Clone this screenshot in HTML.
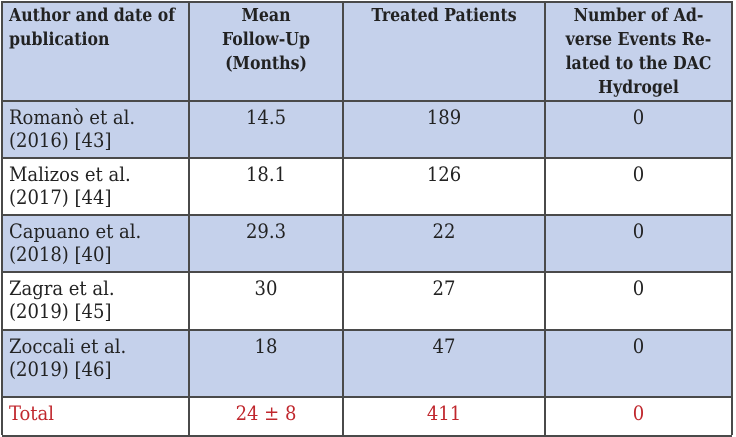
<!DOCTYPE html>
<html><head><style>
body{margin:0;width:736px;height:437px;background:#fff;position:relative;overflow:hidden;color:#222}
div{font-family:"DejaVu Serif Condensed","DejaVu Serif","Liberation Serif",serif}
.r{position:absolute;left:2px;width:730px;border-top:2px solid #4a4a4a}
.b{background:#c5d1eb}
.v{position:absolute;top:1px;height:434px;width:2px;background:#4a4a4a}
.c{position:absolute;font-size:20px;line-height:23px}
.h{position:absolute;font-size:17.5px;line-height:24px;font-weight:bold;text-align:center}
.red{color:#c0272d}
</style></head><body>
<div class="r b" style="top:1px;height:99px"></div>
<div class="r b" style="top:100px;height:56px"></div>
<div class="r" style="top:157px;height:56px"></div>
<div class="r b" style="top:214px;height:56px"></div>
<div class="r" style="top:271px;height:57px"></div>
<div class="r b" style="top:329px;height:66px"></div>
<div class="r" style="top:396px;height:37px;border-bottom:2px solid #4a4a4a"></div>
<div class="v" style="left:1px"></div>
<div class="v" style="left:188px"></div>
<div class="v" style="left:342px"></div>
<div class="v" style="left:544px"></div>
<div class="v" style="left:731px"></div>

<div class="h" style="left:9px;top:4px;text-align:left">Author and date of<br>publication</div>
<div class="h" style="left:190px;width:152px;top:4px">Mean<br>Follow-Up<br>(Months)</div>
<div class="h" style="left:344px;width:200px;top:4px">Treated Patients</div>
<div class="h" style="left:546px;width:185px;top:4px;line-height:24px">Number of Ad-<br>verse Events Re-<br>lated to the DAC<br>Hydrogel</div>

<div class="c" style="left:9px;top:106px">Romanò et al.<br>(2016) [43]</div>
<div class="c" style="left:9px;top:163px">Malizos et al.<br>(2017) [44]</div>
<div class="c" style="left:9px;top:220px">Capuano et al.<br>(2018) [40]</div>
<div class="c" style="left:9px;top:277px">Zagra et al.<br>(2019) [45]</div>
<div class="c" style="left:9px;top:335px">Zoccali et al.<br>(2019) [46]</div>
<div class="c red" style="left:9px;top:402px">Total</div>

<div class="c" style="left:190px;width:152px;text-align:center;top:106px">14.5</div>
<div class="c" style="left:190px;width:152px;text-align:center;top:163px">18.1</div>
<div class="c" style="left:190px;width:152px;text-align:center;top:220px">29.3</div>
<div class="c" style="left:190px;width:152px;text-align:center;top:277px">30</div>
<div class="c" style="left:190px;width:152px;text-align:center;top:335px">18</div>
<div class="c red" style="left:190px;width:152px;text-align:center;top:402px">24 ± 8</div>

<div class="c" style="left:344px;width:200px;text-align:center;top:106px">189</div>
<div class="c" style="left:344px;width:200px;text-align:center;top:163px">126</div>
<div class="c" style="left:344px;width:200px;text-align:center;top:220px">22</div>
<div class="c" style="left:344px;width:200px;text-align:center;top:277px">27</div>
<div class="c" style="left:344px;width:200px;text-align:center;top:335px">47</div>
<div class="c red" style="left:344px;width:200px;text-align:center;top:402px">411</div>

<div class="c" style="left:546px;width:185px;text-align:center;top:106px">0</div>
<div class="c" style="left:546px;width:185px;text-align:center;top:163px">0</div>
<div class="c" style="left:546px;width:185px;text-align:center;top:220px">0</div>
<div class="c" style="left:546px;width:185px;text-align:center;top:277px">0</div>
<div class="c" style="left:546px;width:185px;text-align:center;top:335px">0</div>
<div class="c red" style="left:546px;width:185px;text-align:center;top:402px">0</div>
</body></html>
